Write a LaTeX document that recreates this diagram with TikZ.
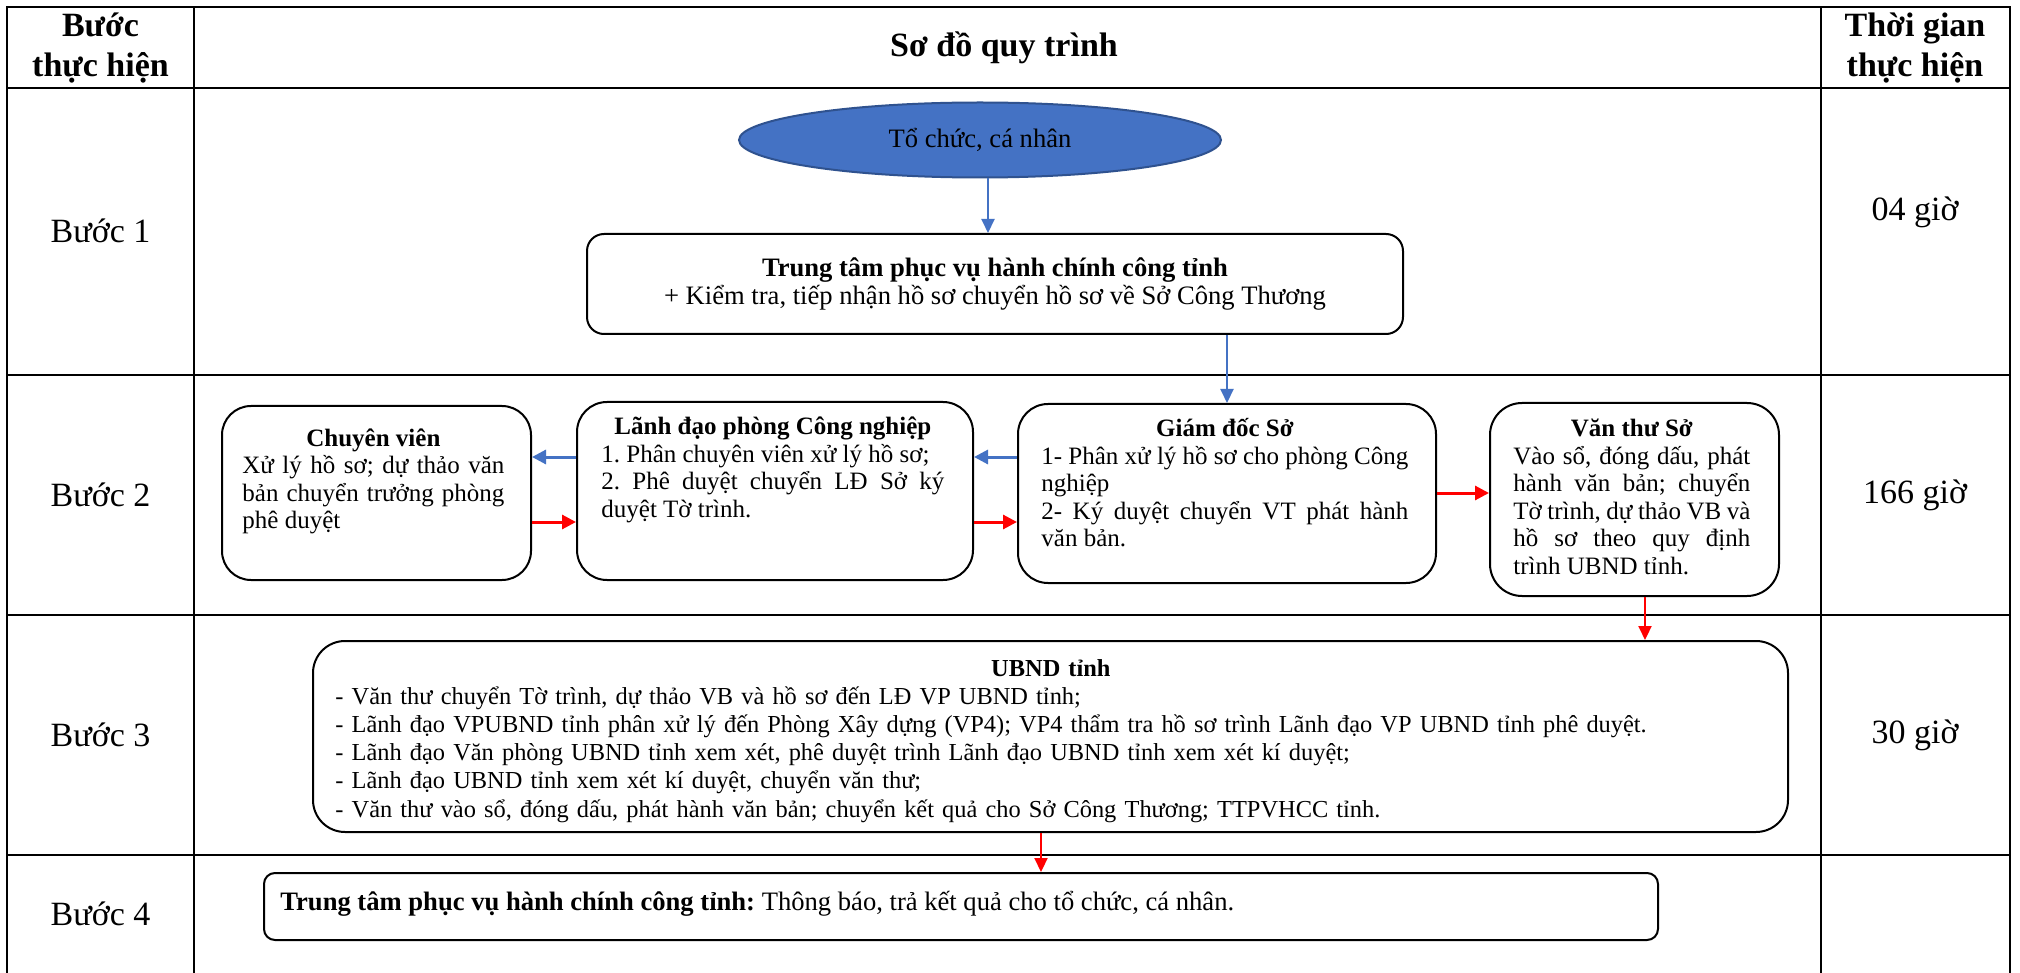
\documentclass[tikz,border=0pt]{standalone}
\usepackage{fontspec}
\setmainfont{Liberation Serif}
\usetikzlibrary{arrows.meta,shapes.geometric,fit}
\definecolor{wblue}{HTML}{4472C4}
\definecolor{wblued}{HTML}{2F528F}
\definecolor{wred}{HTML}{FF0000}
\frenchspacing
\begin{document}
\frenchspacing
\begin{tikzpicture}[x=0.5pt,y=-0.5pt,
  tableline/.style={line width=1.3pt, line join=miter},
  box/.style={draw, line width=1pt, inner sep=0pt},
  bodyfont/.style={font=\fontsize{12.5}{13.75}\selectfont},
  ubfont/.style={font=\fontsize{12.2}{14.1}\selectfont},
  largefont/.style={font=\fontsize{13.3}{14}\selectfont},
  txt/.style={bodyfont, inner sep=0pt, anchor=base west, align=justify},
  headfont/.style={font=\fontsize{17}{20}\selectfont\bfseries, align=center, inner sep=0pt},
  stepfont/.style={font=\fontsize{17}{20}\selectfont, inner sep=0pt},
  bluearr/.style={draw=wblue, line width=1.5pt, -{Triangle[length=7pt,width=7pt]}},
  redarr/.style={draw=wred, line width=1.5pt, -{Triangle[length=7pt,width=7pt]}},
  bluedown/.style={draw=wblue, line width=1pt, -{Triangle[length=7pt,width=6.5pt]}},
  reddown/.style={draw=wred, line width=1.1pt, -{Triangle[length=7pt,width=6.5pt]}}
]
\fill[white] (0,0) rectangle (2020,973);
\useasboundingbox (0,0) rectangle (2020,973);

% table
\draw[tableline] (7,973) -- (7,7) -- (2010,7) -- (2010,973);
\draw[tableline] (194,7) -- (194,973);
\draw[tableline] (1821,7) -- (1821,973);
\foreach \yy in {88,375,615,855} \draw[tableline] (7,\yy) -- (2010,\yy);

% headers
\node[headfont] (hstep) at (100.5,48) {Bước\\thực hiện};
\node[headfont] (hflow) at (1004,48) {Sơ đồ quy trình};
\node[headfont] (htime) at (1915,48) {Thời gian\\thực hiện};

% step labels
\node[stepfont] (b1) at (100.5,231) {Bước 1};
\node[stepfont] (b2) at (100.5,495) {Bước 2};
\node[stepfont] (b3) at (100.5,735) {Bước 3};
\node[stepfont] (b4) at (100.5,914) {Bước 4};
\node[stepfont] (t1) at (1915,212) {04 giờ};
\node[stepfont] (t2) at (1915,495) {166 giờ};
\node[stepfont] (t3) at (1915,735) {30 giờ};

% step 1
\node[ellipse, fill=wblue, draw=wblued, line width=1pt, minimum width=241pt, minimum height=37.5pt, inner sep=0pt, largefont] (org) at (980,140) {Tổ chức, cá nhân};
\node[box, fit={(587,234) (1403,334)}, rounded corners=8.5pt] (tt) {};
\node[largefont, align=center, inner sep=0pt] (ttt) at (tt.center) {\textbf{Trung tâm phục vụ hành chính công tỉnh}\\+ Kiểm tra, tiếp nhận hồ sơ chuyển hồ sơ về Sở Công Thương};

% step 2
\node[box, fit={(222,406) (531,580)}, rounded corners=14.5pt] (cv) {};
\node[box, fit={(577,402) (973,580)}, rounded corners=15pt] (ld) {};
\node[box, fit={(1018,404) (1436,583)}, rounded corners=15pt] (gd) {};
\node[box, fit={(1490,403) (1779,596)}, rounded corners=16pt] (vt) {};

\node[txt, text width=131pt] (cvt) at (242,446) {{\centering\bfseries Chuyên viên\par}Xử lý hồ sơ; dự thảo văn\linebreak bản chuyển trưởng phòng\linebreak phê duyệt};
\node[txt, text width=171.5pt] (ldt) at (601,435) {{\centering\bfseries Lãnh đạo phòng Công nghiệp\par}1. Phân chuyên viên xử lý hồ sơ;\par 2. Phê duyệt chuyển LĐ Sở ký\linebreak duyệt Tờ trình.};
\node[txt, text width=183.5pt] (gdt) at (1041,437) {{\centering\bfseries Giám đốc Sở\par}1- Phân xử lý hồ sơ cho phòng Công\linebreak nghiệp\par 2- Ký duyệt chuyển VT phát hành\linebreak văn bản.};
\node[txt, text width=118.5pt] (vtt) at (1513,437) {{\centering\bfseries Văn thư Sở\par}Vào sổ, đóng dấu, phát\linebreak hành văn bản; chuyển\linebreak Tờ trình, dự thảo VB và\linebreak hồ sơ theo quy định\linebreak trình UBND tỉnh.};

% step 3
\node[box, fit={(313,641) (1788,832)}, rounded corners=16pt] (ub) {};
\node[txt, ubfont, align=left, text width=715.5pt] (ubt) at (335,676) {{\centering\bfseries UBND tỉnh\par}- Văn thư chuyển Tờ trình, dự thảo VB và hồ sơ đến LĐ VP UBND tỉnh;\par
- Lãnh đạo VPUBND tỉnh phân xử lý đến Phòng Xây dựng (VP4); VP4 thẩm tra hồ sơ trình Lãnh đạo VP UBND tỉnh phê duyệt.\par
- Lãnh đạo Văn phòng UBND tỉnh xem xét, phê duyệt trình Lãnh đạo UBND tỉnh xem xét kí duyệt;\par
- Lãnh đạo UBND tỉnh xem xét kí duyệt, chuyển văn thư;\par
- Văn thư vào sổ, đóng dấu, phát hành văn bản; chuyển kết quả cho Sở Công Thương; TTPVHCC tỉnh.};

% step 4
\node[box, fit={(264,873) (1658,940)}, rounded corners=5.5pt] (s4) {};
\node[largefont, anchor=base west, inner sep=0pt] (s4t) at (280,910) {\textbf{Trung tâm phục vụ hành chính công tỉnh:} Thông báo, trả kết quả cho tổ chức, cá nhân.};

% connectors
\draw[bluedown] (org.south -| 988,0) -- (tt.north -| 988,0);
\draw[bluedown] (tt.south -| gd.north) -- (gd.north);
\draw[bluearr] (ld.west |- 0,457) -- (cv.east |- 0,457);
\draw[redarr] (cv.east |- 0,522) -- (ld.west |- 0,522);
\draw[bluearr] (gd.west |- 0,457) -- (ld.east |- 0,457);
\draw[redarr] (ld.east |- 0,522) -- (gd.west |- 0,522);
\draw[redarr] (gd.east |- 0,493) -- (vt.west |- 0,493);
\draw[reddown] (vt.south -| 1645,0) -- (ub.north -| 1645,0);
\draw[reddown] (ub.south -| 1041,0) -- (s4.north -| 1041,0);
\end{tikzpicture}
\end{document}
